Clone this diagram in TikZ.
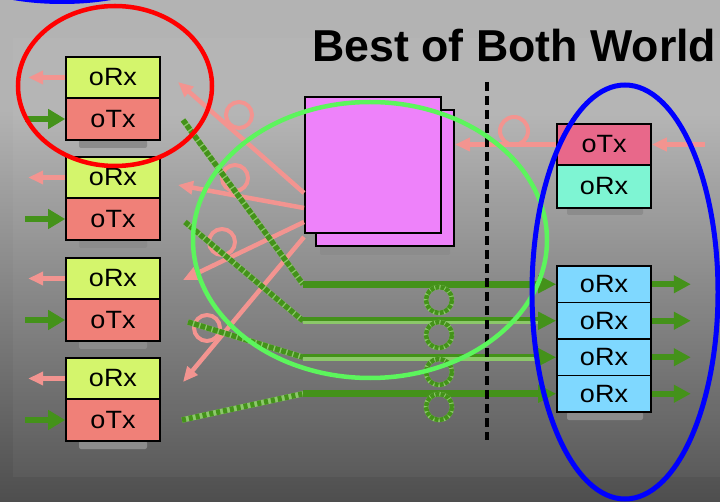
\documentclass[tikz,border=0pt]{standalone}
\usepackage{fontspec}
\setmainfont{Liberation Sans}
\newfontfamily\boxfont[FakeStretch=1.08]{Liberation Sans}
\usetikzlibrary{arrows.meta,calc}

\definecolor{bgtop}{HTML}{B3B3B3}
\definecolor{bgbot}{HTML}{4E4E4E}
\definecolor{rxlime}{HTML}{D4F56C}
\definecolor{txcoral}{HTML}{F08078}
\definecolor{txrose}{HTML}{E8688A}
\definecolor{rxaqua}{HTML}{7EF5D3}
\definecolor{rxsky}{HTML}{7FD8FF}
\definecolor{switchviolet}{HTML}{EE82FA}
\definecolor{fibregreen}{HTML}{44921A}
\definecolor{fibrelight}{HTML}{8CC86A}
\definecolor{fibrepink}{HTML}{F39490}
\definecolor{ringgreen}{HTML}{5CF55C}

\begin{document}
\begin{tikzpicture}[x=1pt,y=-1pt,
  port/.style={draw=black, line width=1.6pt, minimum width=94pt, inner sep=0pt,
    font=\boxfont\fontsize{25}{25}\selectfont, text=black},
  switchbox/.style={draw=black, line width=2pt, fill=switchviolet, inner sep=0pt},
  boxshadow/.style={fill=black!45, rounded corners=2pt},
  pinkfibre/.style={draw=fibrepink, line width=4.5pt, -{Triangle[length=15pt,width=13pt]}},
  pinkloop/.style={draw=fibrepink, line width=4pt},
  greenin/.style={draw=fibregreen, line width=6pt, -{Triangle[length=17pt,width=19pt]}},
  greenrun/.style={draw=fibregreen, line width=7pt, -{Triangle[length=18pt,width=17pt]}},
  greenbase/.style={draw=fibrelight, line width=5.5pt},
  greendots/.style={draw=fibregreen, line width=5.5pt, dash pattern=on 5pt off 1.5pt},
  greenout/.style={draw=fibregreen, line width=6pt, -{Triangle[length=17pt,width=17pt]}},
  remark/.style={line width=4.5pt}]

\useasboundingbox (0,0) rectangle (720,502);
\clip (0,0) rectangle (720,502);

% background
\fill[bgtop] (0,0) rectangle (720,110);
\shade[top color=bgtop, bottom color=bgbot] (0,110) rectangle (720,502);
\fill[white, opacity=0.04] (13,38) rectangle (720,477);

% left transceiver stacks
\foreach \i/\t in {1/57,2/157,3/258,4/358} {
  \fill[boxshadow] (79,\t+83) rectangle (147,\t+91);
  \node[port, fill=rxlime, minimum height=41pt] (lrx\i) at (113,\t+20.5) {oRx};
  \node[port, fill=txcoral, minimum height=42pt] (ltx\i) at (113,\t+62) {oTx};
}

% optical switch
\fill[boxshadow] (320,246) rectangle (450,255);
\node[switchbox, minimum width=138pt, minimum height=136pt] (magb) at (385,178) {};
\node[switchbox, minimum width=136pt, minimum height=136pt] (mag) at (373,165) {};

% right transceiver stacks
\fill[boxshadow] (567,208) rectangle (643,215);
\node[port, fill=txrose, minimum height=41pt] (rtx) at (604,144.5) {oTx};
\node[port, fill=rxaqua, minimum height=43pt] (rrx0) at (604,186.5) {oRx};
\fill[boxshadow] (567,412) rectangle (643,420);
\foreach \i/\c in {1/284.25,2/320.75,3/357.25,4/393.75} {
  \node[port, fill=rxsky, minimum height=36.5pt] (rrx\i) at (604,\c) {oRx};
}

% receive fibres leaving the left stacks
\foreach \i in {1,...,4} {
  \draw[pinkfibre] (lrx\i.west) -- ++(-37,0);
  \draw[greenin] ($(ltx\i.west)+(-40,0)$) -- (ltx\i.west);
}

% fibres from the switch back towards the left receivers
\coordinate (p1) at (178,82);
\coordinate (p2) at (178,185);
\coordinate (p3) at (183,280);
\coordinate (p4) at (183,382);
\draw[pinkfibre] (mag.west |- 0,193) -- (p1);
\draw[pinkfibre] (mag.west |- 0,208) -- (p2);
\draw[pinkfibre] (mag.west |- 0,222) -- (p3);
\draw[pinkfibre] (mag.west |- 0,237) -- (p4);
\foreach \x/\y in {239/115,235/178,222/242,207/328} {
  \draw[pinkloop] (\x,\y) circle[radius=13];
}

% fibre from the right transmitter into the switch
\coordinate (pin) at (705,144.5);
\draw[pinkfibre] (pin) -- (rtx.east);
\draw[pinkfibre] (rtx.west) -- (magb.east |- rtx.west);
\draw[pinkloop] (514,131) circle[radius=14];

% transmit fibres from the left stacks to the right receivers
\coordinate (g1) at (183,120);
\coordinate (g2) at (185,222);
\coordinate (g3) at (188,322);
\coordinate (g4) at (182,420);
\foreach \i in {1,...,4} {
  \coordinate (k\i) at (303,0 |- rrx\i.west);
  \draw[greenbase] (g\i) -- (k\i);
}
\draw[greendots] (g1) -- (k1);
\draw[greendots] (g2) -- (k2);
\draw[greendots] (g3) -- (k3);
\draw[greendots, dash pattern=on 4pt off 3pt] (g4) -- (k4);
\foreach \i in {1,...,4} {
  \draw[greenrun] (k\i) -- (rrx\i.west);
  \draw[greenout] (rrx\i.east) -- ++(39,0);
}
\draw[fibrelight, line width=3.5pt, transform canvas={yshift=-2pt}] (k2) -- ($(rrx2.west)+(-18,0)$);
\draw[fibrelight, line width=3.5pt, transform canvas={yshift=-2pt}] (k3) -- ($(rrx3.west)+(-18,0)$);

% fibre coils
\foreach \y in {300,335,372,407} {
  \draw[fibrelight, line width=4.5pt] (439,\y) circle[radius=13];
  \draw[fibregreen, line width=4.5pt, dash pattern=on 4pt off 1.2pt] (439,\y) circle[radius=13];
}

% separator
\draw[black, line width=4.5pt, dash pattern=on 9pt off 5pt] (487,82) -- (487,440);

% highlight rings
\draw[remark, draw=red] (115,86) ellipse[x radius=97, y radius=80];
\draw[remark, draw=blue, line width=5pt] (62,-30) ellipse[x radius=100, y radius=31.5];
\draw[remark, draw=ringgreen] (370,240) ellipse[x radius=177, y radius=138];
\draw[remark, draw=blue, line width=5pt] (625,292) ellipse[x radius=93, y radius=207];

% title
\node[font=\bfseries\fontsize{44.7}{44.7}\selectfont, anchor=base west, inner sep=0pt] (title) at (312,62) {Best of Both World};

\end{tikzpicture}
\end{document}
